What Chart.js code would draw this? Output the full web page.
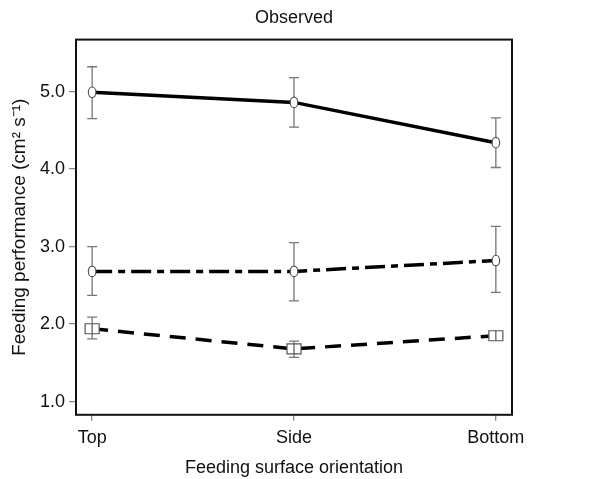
<!DOCTYPE html>
<html>
<head>
<meta charset="utf-8">
<script src="https://cdn.jsdelivr.net/npm/chart.js@4.4.1/dist/chart.umd.min.js"></script>
<style>
  html, body { margin: 0; padding: 0; background: #fff; }
  #wrap { width: 614px; height: 479px; }
</style>
</head>
<body>
<div id="wrap"><canvas id="chart" width="614" height="479"></canvas></div>
<script>
// categories on the x axis (positions 0, 1, 2)
const categories = ['Top', 'Side', 'Bottom'];
const yTicks = [1, 2, 3, 4, 5];

// solid line, circles
const solidMean = [4.99, 4.86, 4.34];
const solidLow  = [4.65, 4.54, 4.02];
const solidHigh = [5.32, 5.18, 4.66];

// dash-dot line, circles
const dashDotMean = [2.68, 2.68, 2.82];
const dashDotLow  = [2.37, 2.30, 2.41];
const dashDotHigh = [3.00, 3.05, 3.26];

// dashed line, squares
const dashedMean = [1.94, 1.68, 1.85];
const dashedLow  = [1.81, 1.57, 1.82];
const dashedHigh = [2.09, 1.78, 1.88];

const FONT = "'Liberation Sans', Arial, sans-serif";

function toPoints(vals) { return vals.map((v, i) => ({ x: i, y: v })); }

const seriesInfo = [
    { mean: solidMean, low: solidLow, high: solidHigh, marker: 'circle' },
    { mean: dashDotMean, low: dashDotLow, high: dashDotHigh, marker: 'circle' },
    { mean: dashedMean, low: dashedLow, high: dashedHigh, marker: 'square' }
];

// error bars, markers and the frame box
const errorBarPlugin = {
    id: 'errorBars',
    afterDatasetsDraw(chart) {
        const ctx = chart.ctx;
        const xs = chart.scales.x, ys = chart.scales.y;
        ctx.save();
        seriesInfo.forEach(s => {
            s.mean.forEach((m, i) => {
                const px = xs.getPixelForValue(i);
                const pm = ys.getPixelForValue(m);
                const pl = ys.getPixelForValue(s.low[i]);
                const ph = ys.getPixelForValue(s.high[i]);
                ctx.strokeStyle = '#777';
                ctx.lineWidth = 1.3;
                ctx.beginPath();
                ctx.moveTo(px, ph); ctx.lineTo(px, pl);
                ctx.moveTo(px - 5, ph); ctx.lineTo(px + 5, ph);
                ctx.moveTo(px - 5, pl); ctx.lineTo(px + 5, pl);
                ctx.stroke();
                ctx.fillStyle = '#fff';
                ctx.strokeStyle = '#555';
                ctx.lineWidth = 1.2;
                ctx.beginPath();
                if (s.marker === 'circle') {
                    ctx.ellipse(px, pm, 3.8, 5.3, 0, 0, Math.PI * 2);
                    ctx.fill(); ctx.stroke();
                } else {
                    ctx.rect(px - 7, pm - 5, 14, 10);
                    ctx.fill(); ctx.stroke();
                    ctx.beginPath();
                    ctx.moveTo(px, pm - 5); ctx.lineTo(px, pm + 5);
                    ctx.stroke();
                }
            });
        });
        const a = chart.chartArea;
        ctx.strokeStyle = '#111';
        ctx.lineWidth = 2;
        ctx.strokeRect(a.left, a.top, a.right - a.left, a.bottom - a.top);
        ctx.restore();
    }
};

function lineDataset(vals, dash) {
    return {
        data: toPoints(vals),
        borderColor: '#000',
        borderWidth: 3.5,
        borderDash: dash,
        pointRadius: 0,
        fill: false,
        tension: 0
    };
}

function initChart() {
    const ctx = document.getElementById('chart').getContext('2d');
    new Chart(ctx, {
        type: 'line',
        data: {
            datasets: [
                lineDataset(solidMean, []),
                lineDataset(dashDotMean, [20, 6, 7, 6]),
                lineDataset(dashedMean, [16, 10])
            ]
        },
        options: {
            responsive: false,
            animation: false,
            layout: { padding: { left: 0, right: 102, top: 0, bottom: 0 } },
            plugins: {
                legend: { display: false },
                tooltip: { enabled: false },
                title: {
                    display: true,
                    text: 'Observed',
                    fullSize: false,
                    color: '#111',
                    font: { family: FONT, size: 18, weight: 'normal' },
                    padding: { top: 7, bottom: 11 }
                }
            },
            scales: {
                x: {
                    type: 'linear',
                    min: -0.08,
                    max: 2.08,
                    afterBuildTicks: axis => { axis.ticks = categories.map((c, i) => ({ value: i })); },
                    ticks: {
                        callback: v => categories[v],
                        color: '#111',
                        font: { family: FONT, size: 18 },
                        padding: 6,
                        maxRotation: 0,
                        autoSkip: false
                    },
                    grid: { drawOnChartArea: false, drawTicks: true, tickLength: 6, color: '#888', lineWidth: 1.3 },
                    border: { display: false },
                    title: {
                        display: true,
                        text: 'Feeding surface orientation',
                        color: '#111',
                        font: { family: FONT, size: 18 },
                        padding: { top: 3, bottom: 0 }
                    }
                },
                y: {
                    type: 'linear',
                    min: 0.83,
                    max: 5.67,
                    afterBuildTicks: axis => { axis.ticks = yTicks.map(v => ({ value: v })); },
                    afterFit: axis => { axis.width = 76; },
                    ticks: {
                        callback: v => v.toFixed(1),
                        color: '#111',
                        font: { family: FONT, size: 18 },
                        padding: 4
                    },
                    grid: { drawOnChartArea: false, drawTicks: true, tickLength: 7, color: '#888', lineWidth: 1.3 },
                    border: { display: false },
                    title: {
                        display: true,
                        text: 'Feeding performance (cm\u00B2 s\u207B\u00B9)',
                        color: '#111',
                        font: { family: FONT, size: 19 },
                        padding: { top: 8, bottom: 2 }
                    }
                }
            }
        },
        plugins: [errorBarPlugin]
    });
}

window.onload = initChart;
</script>
</body>
</html>
